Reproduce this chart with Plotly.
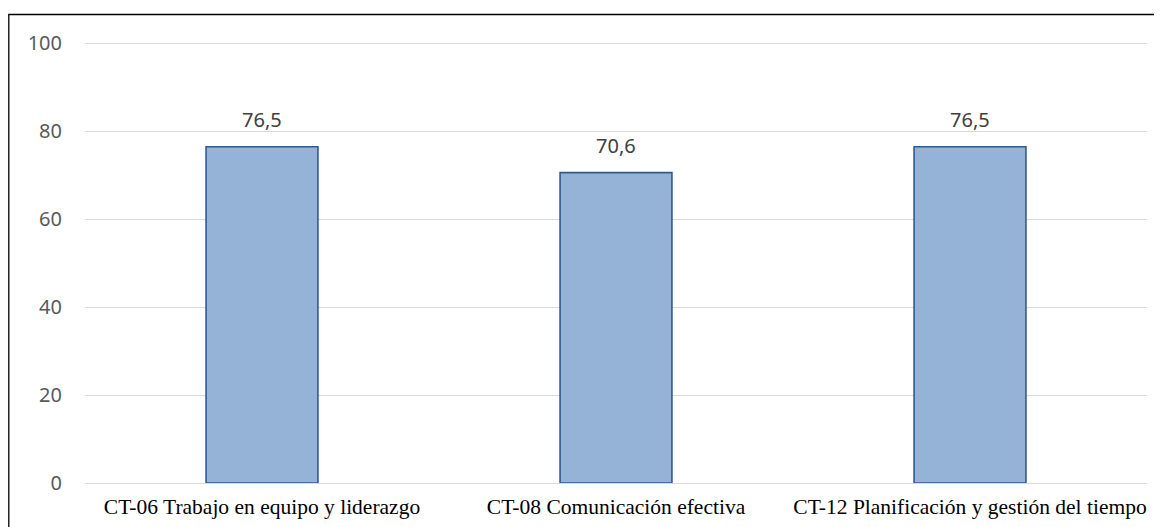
import plotly.graph_objects as go

categories = ["CT-06 Trabajo en equipo y liderazgo", "CT-08 Comunicación efectiva", "CT-12 Planificación y gestión del tiempo"]
values = [76.5, 70.6, 76.5]
labels = ["76,5", "70,6", "76,5"]
y_ticks = [0, 20, 40, 60, 80, 100]

fig = go.Figure()
fig.add_trace(go.Bar(
    x=categories, y=values,
    marker=dict(color="#95B3D7", line=dict(color="#2F5A92", width=1.6)),
    width=0.316,
    hoverinfo="skip",
))

for c, v, t in zip(categories, values, labels):
    fig.add_annotation(x=c, y=v, text=t, showarrow=False, yanchor="bottom", yshift=12,
                       font=dict(family="Noto Sans", size=20, color="#404040"))

# page body has an 8px margin, so the figure is sized to fill the rest of the window
W, H = 1154, 519
ml, mr, mt, mb = 77, 15, 31, 44
pw, ph = W - ml - mr, H - mt - mb

def px(x):
    return (x - ml) / pw

def py(y):
    return (H - mb - y) / ph

fig.add_shape(type="rect", xref="paper", yref="paper",
              x0=px(0.8), x1=px(1180), y0=py(6.5), y1=py(560),
              line=dict(color="#000000", width=1.3), fillcolor="rgba(0,0,0,0)")

fig.update_layout(
    width=W, height=H,
    margin=dict(l=ml, r=mr, t=mt, b=mb, autoexpand=False),
    plot_bgcolor="white", paper_bgcolor="white",
    separators=",.",
    showlegend=False,
    xaxis=dict(
        automargin=False,
        tickfont=dict(family="Liberation Serif", size=21.5, color="#000000"),
        showline=False, showgrid=False,
        ticks="outside", ticklen=4, tickcolor="rgba(0,0,0,0)",
    ),
    yaxis=dict(
        automargin=False,
        range=[0, 101], tickvals=y_ticks,
        tickfont=dict(family="Noto Sans", size=20, color="#595959"),
        showgrid=True, gridcolor="#D9D9D9", gridwidth=1,
        zeroline=True, zerolinecolor="#D9D9D9", zerolinewidth=1,
        showline=False, ticks="outside", ticklen=18, tickcolor="rgba(0,0,0,0)",
    ),
)

fig.write_html("out.html")
